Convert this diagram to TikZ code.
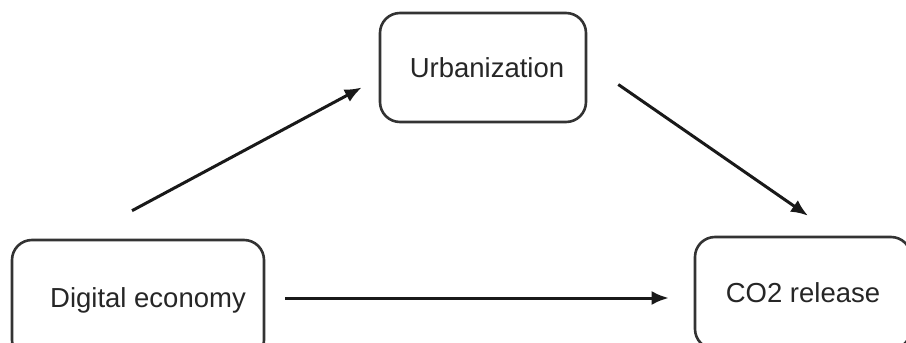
\documentclass[tikz,border=0pt]{standalone}
\usepackage{fontspec}
\setmainfont{Liberation Sans}
\usepackage{tikz}
\usetikzlibrary{shapes,arrows.meta}

\begin{document}
\begin{tikzpicture}[x=1pt,y=-1pt]
	\tikzstyle{bloc}=[rectangle,draw=black!80,line width=2.6pt,rounded corners=20pt,
	text=black!85,font=\fontsize{27.5}{32}\selectfont,inner sep=0pt]
	\tikzstyle{fleche}=[line width=3pt,black!90,
	arrows={-Latex[length=17pt,width=14pt]}]

	\useasboundingbox (0,0) rectangle (906,343);
	\clip (0,0) rectangle (906,343);

	\node[bloc,minimum width=252pt,minimum height=120pt] (de) at (138,300) {\hspace*{20pt}Digital economy};
	\node[bloc,minimum width=206pt,minimum height=109pt] (urb) at (483,67.5) {\hspace*{8pt}\raisebox{-9pt}{Urbanization}};
	\node[bloc,minimum width=216pt,minimum height=112pt] (co2) at (803,293) {CO2 release};

	\draw[fleche] ([xshift=-6pt,yshift=28pt]de.north) -- ([xshift=-17pt,yshift=-20pt]urb.west);
	\draw[fleche] ([xshift=31pt,yshift=-17pt]urb.east) -- ([xshift=5pt,yshift=20pt]co2.north);
	\draw[fleche] ([xshift=20pt,yshift=2pt]de.east) -- ([xshift=-25pt,yshift=-5pt]co2.west);
\end{tikzpicture}
\end{document}
